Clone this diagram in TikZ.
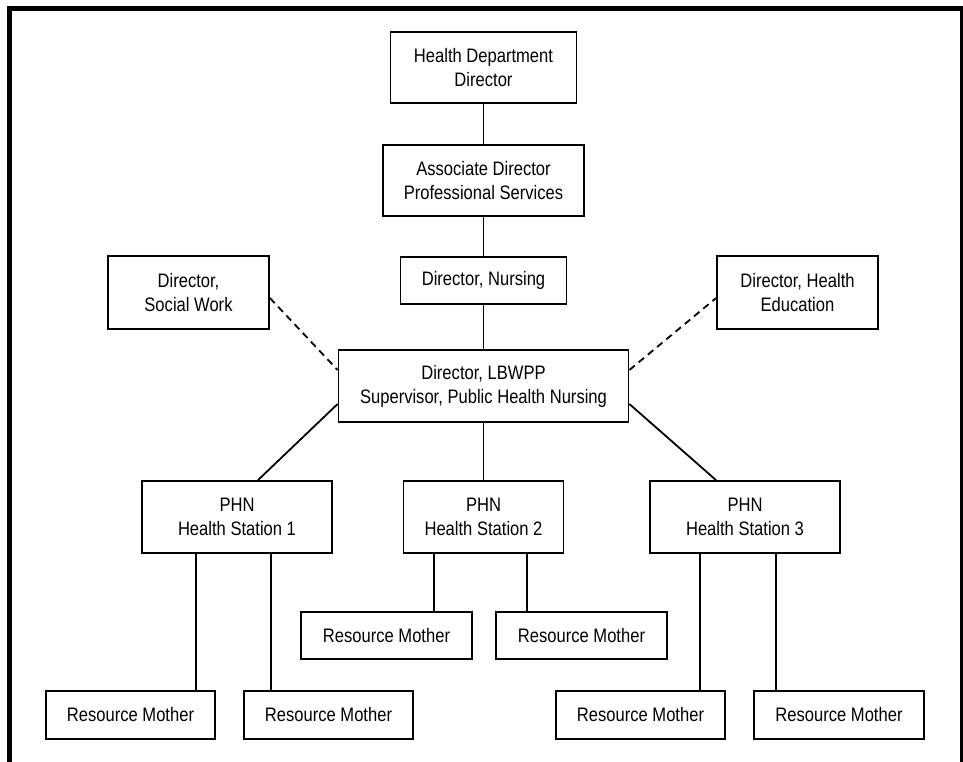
\documentclass[tikz,border=0pt]{standalone}
\usepackage{fontspec}
\setmainfont[FakeStretch=0.85]{Liberation Sans}
\usetikzlibrary{calc}
\begin{document}
\begin{tikzpicture}[x=1pt,y=-1pt,
  orgbox/.style={draw=black, line width=1.8pt, fill=white, inner sep=0pt,
    align=center, font=\fontsize{19.5}{24}\selectfont},
  link/.style={line width=1.8pt},
  dotlink/.style={line width=1.8pt, dash pattern=on 7pt off 5pt},
  frame/.style={line width=5pt}]
\useasboundingbox (0,0) rectangle (963,762);

% outer frame (open at the bottom)
\draw[frame] (9.5,770) -- (9.5,8.5) -- (962,8.5) -- (962,770);

% chain of command
\node[orgbox, minimum width=186pt, minimum height=71pt] (hd) at (483.5,67.5) {Health Department\\Director};
\node[orgbox, minimum width=201pt, minimum height=71pt] (ad) at (483.5,180.5) {Associate Director\\Professional Services};
\node[orgbox, minimum width=166pt, minimum height=47pt] (dn) at (483.5,280.5) {Director, Nursing};
\node[orgbox, minimum width=290pt, minimum height=72pt] (lb) at (483.5,386) {Director, LBWPP\\Supervisor, Public Health Nursing};

% advisory directors
\node[orgbox, minimum width=161pt, minimum height=73pt] (sw) at (188.5,292.5) {Director,\\Social Work};
\node[orgbox, minimum width=161pt, minimum height=73pt] (he) at (797.5,292.5) {Director, Health\\Education};

% health stations
\node[orgbox, minimum width=190pt, minimum height=72pt] (p1) at (237,517) {PHN\\Health Station 1};
\node[orgbox, minimum width=160pt, minimum height=72pt] (p2) at (483.5,517) {PHN\\Health Station 2};
\node[orgbox, minimum width=190pt, minimum height=72pt] (p3) at (745,517) {PHN\\Health Station 3};

% resource mothers
\node[orgbox, minimum width=171pt, minimum height=47pt] (rmA) at (386.5,635.5) {Resource Mother};
\node[orgbox, minimum width=171pt, minimum height=47pt] (rmB) at (581.5,635.5) {Resource Mother};
\node[orgbox, minimum width=169pt, minimum height=48pt] (rm1) at (130.5,715) {Resource Mother};
\node[orgbox, minimum width=169pt, minimum height=48pt] (rm2) at (328.5,715) {Resource Mother};
\node[orgbox, minimum width=169pt, minimum height=48pt] (rm3) at (640.5,715) {Resource Mother};
\node[orgbox, minimum width=170pt, minimum height=48pt] (rm4) at (839,715) {Resource Mother};

% vertical chain
\draw[link] (hd.south) -- (ad.north);
\draw[link] (ad.south) -- (dn.north);
\draw[link] (dn.south) -- (lb.north);
\draw[link] (lb.south) -- (p2.north);

% diagonal links to the stations
\draw[link] ([yshift=-18pt]lb.west) -- ([xshift=21pt]p1.north);
\draw[link] ([yshift=-18pt]lb.east) -- ([xshift=-29pt]p3.north);

% dashed advisory links
\draw[dotlink] ([yshift=-5.5pt]sw.east) -- ([yshift=16pt]lb.west);
\draw[dotlink] ([yshift=16pt]lb.east) -- ([yshift=-5.5pt]he.west);

% station to resource mother drops
\coordinate (p1a) at ([xshift=-41pt]p1.south);
\coordinate (p1b) at ([xshift=34pt]p1.south);
\coordinate (p2a) at ([xshift=-49.5pt]p2.south);
\coordinate (p2b) at ([xshift=43.5pt]p2.south);
\coordinate (p3a) at ([xshift=-45pt]p3.south);
\coordinate (p3b) at ([xshift=31pt]p3.south);
\draw[link] (p1a) -- (p1a |- rm1.north);
\draw[link] (p1b) -- (p1b |- rm2.north);
\draw[link] (p2a) -- (p2a |- rmA.north);
\draw[link] (p2b) -- (p2b |- rmB.north);
\draw[link] (p3a) -- (p3a |- rm3.north);
\draw[link] (p3b) -- (p3b |- rm4.north);
\end{tikzpicture}
\end{document}
